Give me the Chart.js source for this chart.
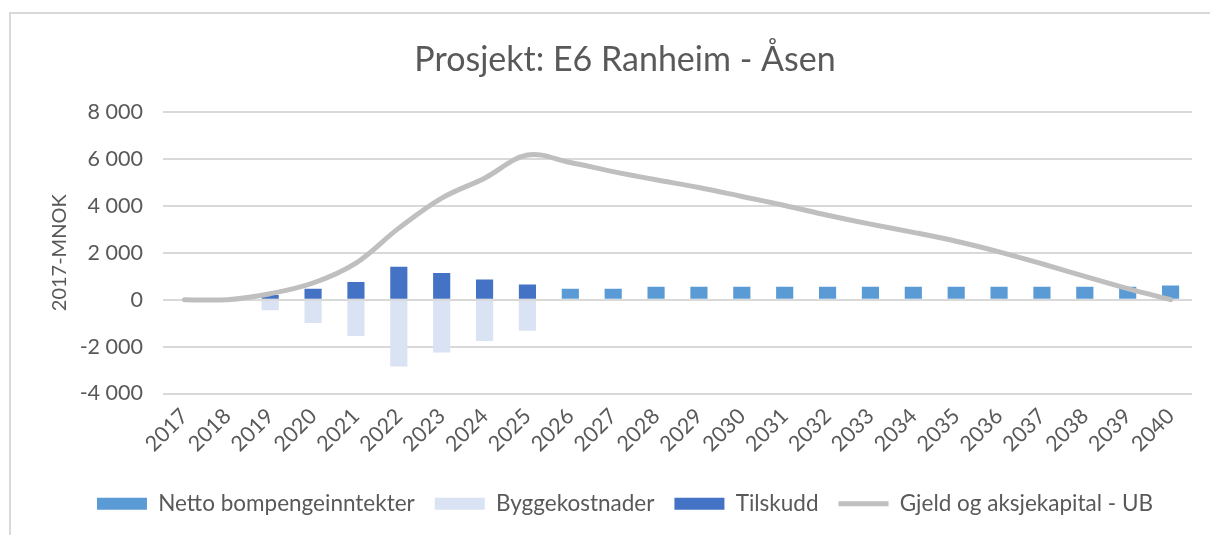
<!DOCTYPE html>
<html>
<head>
<meta charset="utf-8">
<script src="https://cdn.jsdelivr.net/npm/chart.js@4.4.1/dist/chart.umd.min.js"></script>
<style>
  html, body { margin: 0; padding: 0; background: #ffffff; }
  #wrap { position: relative; width: 1210px; height: 535px; }
  #frame { position: absolute; left: 9px; top: 12px; right: -5px; bottom: -5px;
           border-left: 2px solid #d9d9d9; border-top: 2px solid #d9d9d9; pointer-events: none; }
  canvas { position: absolute; left: 0; top: 0; }
</style>
</head>
<body>
<div id="wrap">
  <canvas id="c" width="1210" height="535"></canvas>
  <div id="frame"></div>
</div>
<script>
const chartTitle = 'Prosjekt: E6 Ranheim - Åsen';
const yAxisTitle = '2017-MNOK';
const years = ['2017','2018','2019','2020','2021','2022','2023','2024','2025','2026','2027','2028',
               '2029','2030','2031','2032','2033','2034','2035','2036','2037','2038','2039','2040'];
const seriesNames = ['Netto bompengeinntekter', 'Byggekostnader', 'Tilskudd', 'Gjeld og aksjekapital - UB'];
const nettoBompenger = [null,null,null,null,null,null,null,null,null,470,470,550,
                        550,550,550,550,550,550,550,550,550,550,550,600];
const byggekostnader = [null,null,-450,-990,-1550,-2850,-2255,-1760,-1320,null,null,null,
                        null,null,null,null,null,null,null,null,null,null,null,null];
const tilskudd = [null,null,200,470,750,1400,1135,865,650,null,null,null,
                  null,null,null,null,null,null,null,null,null,null,null,null];
const gjeldUB = [0,0,255,710,1560,3050,4330,5180,6170,5845,5460,5110,
                 4780,4400,4015,3600,3220,2870,2490,2040,1530,990,470,0];
const yTicks = { min: -4000, max: 8000, step: 2000 };

const FONT = 'Lato, "Open Sans", sans-serif';
const TXT = '#595959';

function fmt(v) {
  const s = Math.abs(v).toFixed(0).replace(/\B(?=(\d{3})+(?!\d))/g, ' ');
  return (v < 0 ? '-' : '') + s;
}

const chart = new Chart(document.getElementById('c'), {
  data: {
    labels: years,
    datasets: [
      { type: 'bar', label: seriesNames[0], data: nettoBompenger, backgroundColor: '#5b9bd5', stack: 'b', order: 0 },
      { type: 'bar', label: seriesNames[1], data: byggekostnader, backgroundColor: '#dae3f3', stack: 'b', order: 0 },
      { type: 'bar', label: seriesNames[2], data: tilskudd, backgroundColor: '#4472c4', stack: 'b', order: 0 },
      { type: 'line', label: seriesNames[3], data: gjeldUB, borderColor: '#bfbfbf', backgroundColor: '#bfbfbf',
        borderWidth: 5, pointRadius: 0, tension: 0.35, stack: 'l', order: -1, borderCapStyle: 'round' }
    ]
  },
  options: {
    responsive: false,
    animation: false,
    events: [],
    layout: { padding: { left: 58, right: 18, top: 0, bottom: 10 } },
    datasets: { bar: { barPercentage: 0.4, categoryPercentage: 1 } },
    plugins: {
      tooltip: { enabled: false },
      title: {
        display: true, text: chartTitle, color: TXT,
        font: { family: FONT, size: 34, weight: 'normal', lineHeight: 1.2 },
        padding: { top: 39.6, bottom: 31.6 }
      },
      legend: {
        position: 'bottom',
        labels: {
          color: TXT,
          font: { family: FONT, size: 22.5 },
          usePointStyle: true,
          pointStyleWidth: 50,
          boxHeight: 12,
          padding: 20,
          sort: (a, b) => a.datasetIndex - b.datasetIndex,
          generateLabels: (ch) => {
            const items = Chart.defaults.plugins.legend.labels.generateLabels(ch);
            items.forEach(it => {
              const ds = ch.data.datasets[it.datasetIndex];
              if (ds.type === 'line') { it.pointStyle = 'line'; it.lineWidth = 5; it.strokeStyle = '#bfbfbf'; }
              else { it.pointStyle = 'rect'; it.lineWidth = 0; }
            });
            return items;
          }
        }
      }
    },
    scales: {
      x: {
        stacked: true,
        grid: { display: false },
        border: { display: false },
        ticks: { color: TXT, font: { family: FONT, size: 21.5 }, minRotation: 45, maxRotation: 45, padding: 2, autoSkip: false },
        afterFit: (s) => { s.height = 79; }
      },
      y: {
        stacked: true,
        min: yTicks.min, max: yTicks.max,
        border: { display: false },
        grid: { color: '#d9d9d9', lineWidth: 2, drawTicks: false },
        ticks: { stepSize: yTicks.step, color: TXT, font: { family: FONT, size: 21.5 }, padding: 20, callback: (v) => fmt(v) },
        title: { display: true, text: yAxisTitle, color: TXT, font: { family: FONT, size: 20 }, padding: { top: -10, bottom: 0 } },
        afterFit: (s) => { s.width = 105; }
      }
    }
  }
});
</script>
</body>
</html>
